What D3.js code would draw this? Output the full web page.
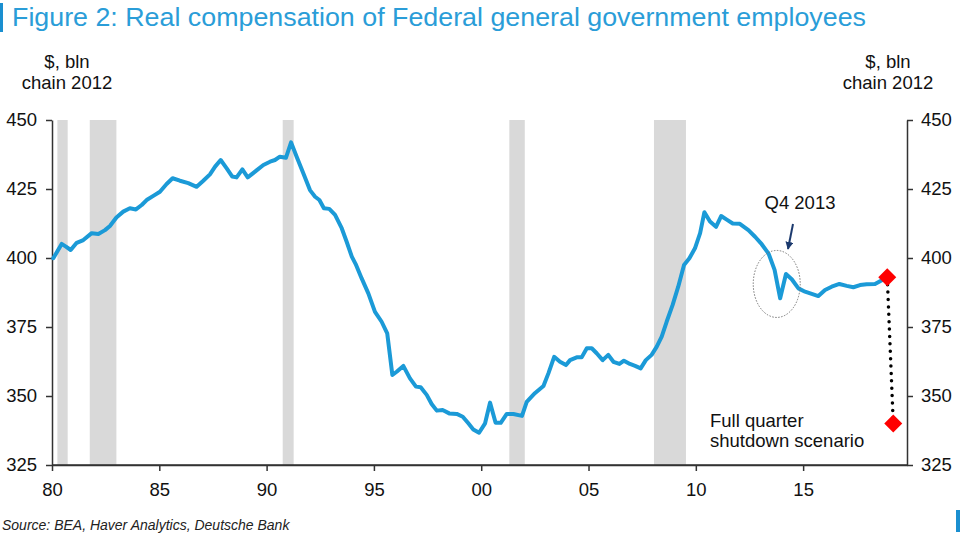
<!DOCTYPE html>
<html><head><meta charset="utf-8">
<script src="https://cdnjs.cloudflare.com/ajax/libs/d3/7.8.5/d3.min.js"></script>
<style>
html,body{margin:0;padding:0;background:#fff;}
svg{display:block;font-family:"Liberation Sans",Arial,Helvetica,sans-serif;}
</style></head>
<body>
<svg id="chart" width="960" height="541"></svg>
<script>
// ---- data ----
const years = [1980.06,1980.45,1980.65,1980.87,1981.15,1981.46,1981.85,1982.16,1982.47,1982.70,1983.00,1983.32,1983.63,1983.91,1984.18,1984.41,1984.72,1985.03,1985.34,1985.62,1985.96,1986.35,1986.74,1987.05,1987.36,1987.60,1987.86,1988.14,1988.40,1988.60,1988.87,1989.12,1989.46,1989.85,1990.16,1990.39,1990.62,1990.90,1991.14,1991.40,1991.71,1992.02,1992.26,1992.46,1992.67,1992.92,1993.19,1993.50,1993.73,1993.97,1994.15,1994.43,1994.74,1995.05,1995.36,1995.62,1995.86,1996.06,1996.37,1996.68,1996.96,1997.18,1997.46,1997.69,1997.93,1998.20,1998.51,1998.86,1999.14,1999.40,1999.63,1999.90,2000.18,2000.41,2000.67,2000.91,2001.19,2001.50,2001.90,2002.12,2002.50,2002.90,2003.13,2003.40,2003.67,2003.95,2004.14,2004.45,2004.68,2004.92,2005.15,2005.38,2005.66,2005.92,2006.16,2006.44,2006.65,2006.93,2007.17,2007.43,2007.67,2007.94,2008.18,2008.41,2008.64,2008.92,2009.18,2009.45,2009.70,2009.96,2010.20,2010.40,2010.66,2010.94,2011.18,2011.44,2011.72,2012.05,2012.45,2012.76,2013.07,2013.39,2013.67,2013.93,2014.20,2014.47,2014.78,2015.09,2015.40,2015.71,2016.02,2016.33,2016.69,2017.03,2017.34,2017.65,2017.96,2018.35,2018.92];
const values = [399.9,405.1,404.1,402.9,405.5,406.5,409.0,408.7,410.1,411.6,414.7,416.8,418.0,417.6,419.2,421.0,422.5,424.0,426.8,428.9,428.0,427.1,425.8,428.0,430.3,433.1,435.5,432.5,429.5,429.2,432.1,429.2,431.3,433.7,434.9,435.5,436.7,436.3,441.9,436.7,430.7,424.6,422.2,421.0,418.0,417.8,415.6,410.8,405.9,400.5,397.8,392.6,387.2,380.5,376.9,372.7,357.6,358.8,360.9,356.4,353.4,353.2,350.4,347.1,344.7,344.9,343.7,343.5,342.5,340.1,337.9,336.7,340.1,347.6,340.3,340.3,343.5,343.5,342.8,347.9,351.0,353.6,358.2,364.2,362.4,361.2,363.0,364.0,364.0,367.3,367.3,365.5,363.0,364.9,362.4,361.6,362.8,361.6,360.9,360.0,363.0,364.9,367.9,371.5,376.9,383.0,389.6,397.5,399.9,403.5,409.0,416.6,413.2,411.3,415.2,413.9,412.5,412.4,410.1,407.7,405.0,401.6,395.7,385.4,394.2,392.3,389.0,387.8,387.0,386.2,388.4,389.6,390.6,389.9,389.4,390.2,390.5,390.6,393.0];
const recessionStart = [1980.25,1981.76,1990.75,2001.31,2008.05];
const recessionEnd   = [1980.73,1983.00,1991.26,2002.03,2009.54];
const scenarioYears  = [2018.92,2019.20];
const scenarioValues = [393.0,340.0];
const xTickYears  = [1980,1985,1990,1995,2000,2005,2010,2015];
const xTickLabels = ["80","85","90","95","00","05","10","15"];
const yTicks = [325,350,375,400,425,450];
const q4Year = 2013.77, q4Value = 390.6;

// ---- layout ----
const svg = d3.select("#chart");
const L = 52, R = 907, T = 120, B = 465;
const x = d3.scaleLinear().domain([1980, 2019.84]).range([L, R]);
const y = d3.scaleLinear().domain([325, 450]).range([B, T]);
const FONT = 18.5;

// title
svg.append("rect").attr("x",0).attr("y",3).attr("width",3).attr("height",29).attr("fill","#1a8fd0");
svg.append("text").attr("x",12).attr("y",26)
  .attr("font-size",25).attr("fill","#2a9dd8")
  .attr("textLength",854).attr("lengthAdjust","spacingAndGlyphs")
  .text("Figure 2: Real compensation of Federal general government employees");

// unit labels
[[67,"left"],[888,"right"]].forEach(([cx])=>{
  const t = svg.append("text").attr("text-anchor","middle").attr("font-size",FONT).attr("fill","#111");
  t.append("tspan").attr("x",cx).attr("y",68).text("$, bln");
  t.append("tspan").attr("x",cx).attr("y",89).text("chain 2012");
});

// recession bands
svg.append("g").selectAll("rect").data(recessionStart).join("rect")
  .attr("x",(d)=>x(d)).attr("width",(d,i)=>x(recessionEnd[i])-x(d))
  .attr("y",T).attr("height",B-T).attr("fill","#d9d9d9");

// axes
function styleAxis(g){
  g.selectAll(".domain").attr("stroke","#333").attr("stroke-width",1.5);
  g.selectAll(".tick line").attr("stroke","#333").attr("stroke-width",1.5);
  g.selectAll(".tick text").attr("fill","#111").attr("font-size",FONT)
    .attr("font-family","'Liberation Sans',Arial,Helvetica,sans-serif");
}
svg.append("g").attr("transform",`translate(${L},0)`)
  .call(d3.axisLeft(y).tickValues(yTicks).tickSize(6).tickSizeOuter(0).tickPadding(9))
  .call(styleAxis);
svg.append("g").attr("transform",`translate(${R},0)`)
  .call(d3.axisRight(y).tickValues(yTicks).tickSize(6).tickSizeOuter(0).tickPadding(8))
  .call(styleAxis);
svg.append("g").attr("transform",`translate(0,${B})`)
  .call(d3.axisBottom(x).tickValues(xTickYears).tickFormat((d,i)=>xTickLabels[i]).tickSize(6).tickSizeOuter(0).tickPadding(12))
  .call(styleAxis);
svg.append("line").attr("x1",L).attr("x2",R).attr("y1",B).attr("y2",B).attr("stroke","#333").attr("stroke-width",1.5);

// main line
const pts = years.map((yr,i)=>[yr,values[i]]);
svg.append("path").datum(pts)
  .attr("d", d3.line().x(d=>x(d[0])).y(d=>y(d[1])))
  .attr("fill","none").attr("stroke","#1b9ad7").attr("stroke-width",4)
  .attr("stroke-linejoin","round").attr("stroke-linecap","round");

// scenario dotted line + diamonds
svg.append("line")
  .attr("x1",x(scenarioYears[0])).attr("y1",y(scenarioValues[0]))
  .attr("x2",x(scenarioYears[1])).attr("y2",y(scenarioValues[1]))
  .attr("stroke","#000").attr("stroke-width",3.5).attr("stroke-linecap","round")
  .attr("stroke-dasharray","0,7.4");
svg.append("g").selectAll("path").data(scenarioYears).join("path")
  .attr("transform",(d,i)=>`translate(${x(d)},${y(scenarioValues[i])})`)
  .attr("d","M0,-9L9,0L0,9L-9,0Z").attr("fill","#ff0000");

// Q4 2013 annotation
svg.append("ellipse").attr("cx",x(q4Year)).attr("cy",y(q4Value)).attr("rx",23.5).attr("ry",33.5)
  .attr("fill","none").attr("stroke","#777").attr("stroke-width",1).attr("stroke-dasharray","1.5,1.5");
svg.append("text").attr("x",800).attr("y",209).attr("text-anchor","middle")
  .attr("font-size",FONT).attr("fill","#111").text("Q4 2013");
svg.append("defs").append("marker").attr("id","ah").attr("viewBox","0 0 10 10")
  .attr("refX",9).attr("refY",5).attr("markerWidth",4).attr("markerHeight",4).attr("orient","auto")
  .append("path").attr("d","M0,0L10,5L0,10Z").attr("fill","#1c3a6e");
svg.append("line").attr("x1",793).attr("y1",224).attr("x2",788).attr("y2",249)
  .attr("stroke","#1c3a6e").attr("stroke-width",2).attr("marker-end","url(#ah)");

// scenario label
const s = svg.append("text").attr("font-size",FONT).attr("fill","#111");
s.append("tspan").attr("x",710).attr("y",427).text("Full quarter");
s.append("tspan").attr("x",710).attr("y",447).text("shutdown scenario");

// source
svg.append("text").attr("x",2).attr("y",530).attr("font-size",14).attr("font-style","italic")
  .attr("fill","#222").text("Source: BEA, Haver Analytics, Deutsche Bank");
svg.append("rect").attr("x",956).attr("y",510).attr("width",4).attr("height",22).attr("fill","#1a8fd0");
</script>
</body></html>
